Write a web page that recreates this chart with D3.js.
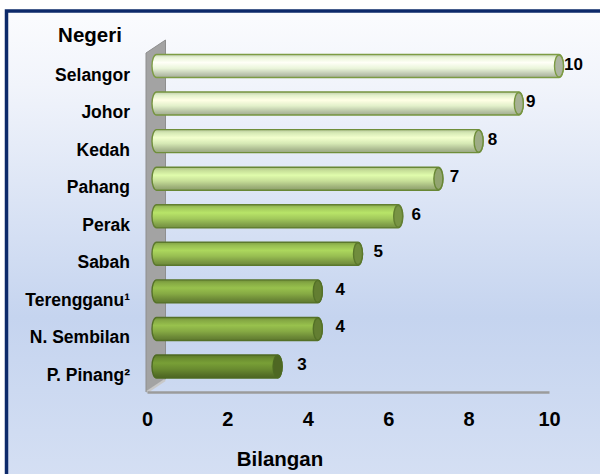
<!DOCTYPE html>
<html>
<head>
<meta charset="utf-8">
<script src="https://cdn.jsdelivr.net/npm/d3@7"></script>
<style>
  body { margin: 0; background: #fff; }
  svg text { font-family: Arial, "Liberation Sans", sans-serif; font-weight: bold; fill: #000; }
</style>
</head>
<body>
<div class="chart"></div>
<script>
// Data.
const negeri = ['Selangor', 'Johor', 'Kedah', 'Pahang', 'Perak', 'Sabah', 'Terengganu\u00b9', 'N. Sembilan', 'P. Pinang\u00b2'];
const bilangan = [10, 9, 8, 7, 6, 5, 4, 4, 3];
const xTicks = [0, 2, 4, 6, 8, 10];

// SVG constants.
const width = 600;
const height = 474;
const barH = 23;
const capR = 4.5;

const svg = d3.select('.chart')
              .append('svg')
              .attr('width', width)
              .attr('height', height);

const defs = svg.append('defs');

// Background gradient.
const bg = defs.append('linearGradient')
               .attr('id', 'bg')
               .attr('x1', 0).attr('y1', 0).attr('x2', 0).attr('y2', 1);
bg.append('stop').attr('offset', '0%').attr('stop-color', '#fbfcfe');
bg.append('stop').attr('offset', '15%').attr('stop-color', '#f1f4fb');
bg.append('stop').attr('offset', '62%').attr('stop-color', '#c5d4ef');
bg.append('stop').attr('offset', '100%').attr('stop-color', '#d7e1f4');

svg.append('rect')
   .attr('x', 6.5)
   .attr('y', 11)
   .attr('width', width + 20)
   .attr('height', height + 20)
   .attr('fill', 'url(#bg)')
   .attr('stroke', '#0d2a6a')
   .attr('stroke-width', 3.5);

// Scales.
const x = d3.scaleLinear().domain([0, 10]).range([147, 549]);      // back plane (axis)
const xb = d3.scaleLinear().domain([0, 10]).range([157, 559]);     // front plane (bars)
const xl = d3.scaleLinear().domain([0, 10]).range([183, 564]);     // value labels
const y = d3.scalePoint().domain(negeri).range([66, 366.5]);

const color = d3.scaleLinear()
                .domain([3, 4, 5, 6, 7, 8, 9, 10])
                .range(['#6a8c30', '#86aa44', '#98be52', '#a2c95c', '#c6de98', '#d6e9b5', '#e2f0ca', '#eaf5da']);
const outline = d3.scaleLinear()
                  .domain([3, 10])
                  .range(['#4d6a22', '#7d9c44']);

// Wall.
svg.append('path')
   .attr('d', 'M146,53 L165.5,40 L165.5,379 L146,392 Z')
   .attr('fill', '#a3a3a3')
   .attr('stroke', '#8e8e8e')
   .attr('stroke-width', 1);
svg.append('path')
   .attr('d', 'M147,392 L165,380')
   .attr('stroke', '#c8c8c8')
   .attr('stroke-width', 2.5);

// X axis (floor).
const xAxis = d3.axisBottom(x).tickValues(xTicks).tickSize(0).tickSizeOuter(0);
const axisG = svg.append('g')
                 .attr('transform', 'translate(0,392)')
                 .call(xAxis);
axisG.select('.domain').attr('stroke', '#9b9b9b').attr('stroke-width', 2.5);
axisG.selectAll('text')
     .attr('y', 34)
     .attr('dy', 0)
     .style('font-size', '20px')
     .style('font-family', 'Arial, "Liberation Sans", sans-serif')
     .style('font-weight', 'bold')
     .attr('fill', '#000');

// Bar gradients.
bilangan.forEach((v, i) => {
  const c = d3.color(color(v));
  const g = defs.append('linearGradient')
                .attr('id', 'bar' + i)
                .attr('x1', 0).attr('y1', 0).attr('x2', 0).attr('y2', 1);
  g.append('stop').attr('offset', '0%').attr('stop-color', c.darker(0.45));
  g.append('stop').attr('offset', '14%').attr('stop-color', c);
  g.append('stop').attr('offset', '35%').attr('stop-color', c.brighter(0.35));
  g.append('stop').attr('offset', '60%').attr('stop-color', c);
  g.append('stop').attr('offset', '85%').attr('stop-color', c.darker(0.6));
  g.append('stop').attr('offset', '100%').attr('stop-color', c.darker(0.95));
});

// Bars.
const bars = svg.append('g')
                .selectAll('g')
                .data(bilangan)
                .enter()
                .append('g');

bars.append('rect')
    .attr('x', xb(0) - 5)
    .attr('y', (d, i) => y(negeri[i]) - barH / 2)
    .attr('width', (d) => xb(d) + capR - (xb(0) - 5))
    .attr('height', barH)
    .attr('rx', capR)
    .attr('ry', barH / 2)
    .attr('fill', (d, i) => 'url(#bar' + i + ')')
    .attr('stroke', (d) => outline(d))
    .attr('stroke-width', 1.4);

bars.append('ellipse')
    .attr('cx', (d) => xb(d))
    .attr('cy', (d, i) => y(negeri[i]))
    .attr('rx', capR)
    .attr('ry', barH / 2 - 0.5)
    .attr('fill', (d) => d3.color(color(d)).darker(0.85))
    .attr('stroke', (d) => outline(d))
    .attr('stroke-width', 1.4);

// Value labels.
bars.append('text')
    .attr('x', (d) => xl(d))
    .attr('y', (d, i) => y(negeri[i]) + 3.5)
    .style('font-size', '17px')
    .text((d) => d);

// Category labels.
svg.append('g')
   .selectAll('text')
   .data(negeri)
   .enter()
   .append('text')
   .attr('x', 130)
   .attr('y', (d) => y(d) + 14.5)
   .attr('text-anchor', 'end')
   .style('font-size', '17.5px')
   .text((d) => d);

// Axis titles.
svg.append('text')
   .attr('x', 90)
   .attr('y', 42)
   .attr('text-anchor', 'middle')
   .style('font-size', '20.5px')
   .text('Negeri');

svg.append('text')
   .attr('x', 280)
   .attr('y', 466)
   .attr('text-anchor', 'middle')
   .style('font-size', '20.5px')
   .text('Bilangan');
</script>
</body>
</html>
